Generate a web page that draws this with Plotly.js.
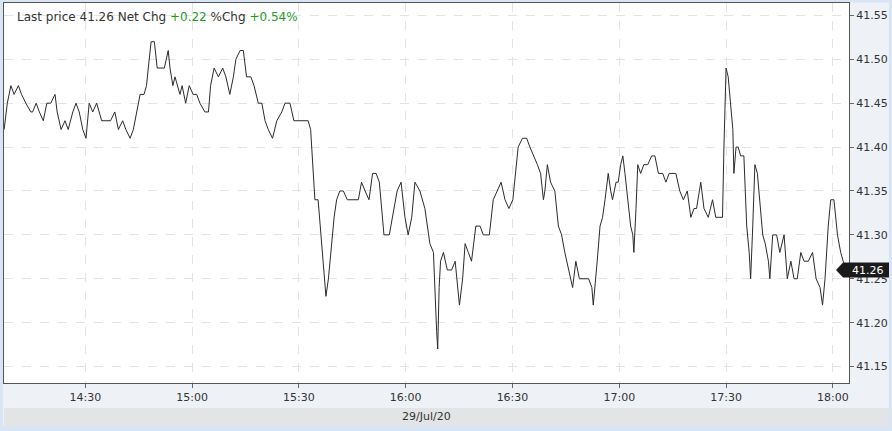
<!DOCTYPE html>
<html>
<head>
<meta charset="utf-8">
<script src="https://cdn.plot.ly/plotly-3.0.1.min.js"></script>
<style>html,body{margin:0;padding:0;background:#d7e5f5;}#chart{width:892px;height:431px;}</style>
</head>
<body>
<div id="chart"></div>
<script>
const tradeDate = "2020-07-29";
const dateLabel = "29/Jul/20";
const times = [
"14:07:12","14:08:06","14:09:06","14:10:00","14:11:12","14:12:06","14:13:18","14:14:42","14:15:12","14:16:12",
"14:17:06","14:18:12","14:19:12","14:20:18","14:21:30","14:22:06","14:23:12","14:24:18","14:25:12","14:26:30",
"14:27:24","14:28:18","14:29:18","14:30:12","14:31:06","14:32:06","14:33:12","14:34:36","14:37:06","14:38:18",
"14:39:18","14:40:30","14:41:24","14:42:36","14:43:30","14:44:24","14:45:24","14:46:30","14:47:12","14:47:42",
"14:48:30","14:49:24","14:50:12","14:52:12","14:53:18","14:53:48","14:54:36","14:55:12","14:55:48","14:56:36",
"14:57:12","14:57:42","14:58:12","14:59:12","15:00:18","15:01:18","15:02:12","15:03:36","15:04:36","15:05:12",
"15:06:12","15:07:24","15:08:36","15:09:30","15:10:36","15:11:36","15:12:18","15:13:30","15:14:24","15:15:18",
"15:16:30","15:17:24","15:18:36","15:19:36","15:20:30","15:21:24","15:22:36","15:23:48","15:25:12","15:26:06",
"15:27:30","15:28:36","15:32:36","15:33:18","15:33:54","15:34:30","15:35:24","15:36:24","15:37:06","15:37:36",
"15:38:18","15:39:12","15:39:54","15:40:36","15:41:30","15:42:30","15:43:36","15:46:42","15:47:36","15:48:36",
"15:49:42","15:50:42","15:51:42","15:52:36","15:53:54","15:55:24","15:56:18","15:57:36","15:58:42","15:59:48",
"16:00:42","16:01:42","16:02:36","16:04:00","16:05:24","16:06:48","16:07:48","16:08:12","16:08:42","16:09:00",
"16:09:24","16:09:48","16:10:36","16:11:42","16:12:54","16:13:54","16:14:30","16:15:06","16:16:00","16:16:42",
"16:17:36","16:18:30","16:19:42","16:20:54","16:21:48","16:23:30","16:24:36","16:25:42","16:26:48","16:27:54",
"16:29:00","16:30:06","16:31:00","16:31:36","16:32:48","16:34:00","16:34:54","16:36:00","16:37:00","16:37:54",
"16:38:42","16:39:06","16:39:48","16:40:42","16:41:54","16:42:54","16:43:48","16:44:42","16:45:42","16:46:54",
"16:47:48","16:48:48","16:51:24","16:52:18","16:52:42","16:53:12","16:53:48","16:54:36","16:55:18","16:56:00",
"16:56:54","16:57:36","16:58:06","16:59:06","16:59:42","17:00:24","17:01:00","17:01:36","17:02:30","17:03:12",
"17:03:48","17:04:06","17:04:42","17:05:12","17:06:00","17:06:54","17:08:00","17:09:06","17:10:00","17:11:00",
"17:12:12","17:13:06","17:14:00","17:15:54","17:17:00","17:18:00","17:19:06","17:20:06","17:21:00","17:21:42",
"17:22:54","17:23:48","17:25:00","17:26:12","17:27:06","17:29:00","17:29:24","17:30:00","17:30:36","17:31:18",
"17:31:54","17:32:12","17:32:48","17:33:24","17:34:06","17:35:00","17:35:48","17:36:30","17:36:54","17:37:30",
"17:38:06","17:38:48","17:39:30","17:40:18","17:41:00","17:41:54","17:42:18","17:43:06","17:44:12","17:45:06",
"17:46:18","17:47:12","17:48:12","17:49:06","17:50:00","17:51:00","17:51:54","17:53:06","17:54:18","17:55:18",
"17:56:24","17:57:06","17:57:48","17:58:42","17:59:24","18:00:18","18:01:18","18:02:12","18:02:54","18:03:36"
];
const prices = [
41.42,41.45,41.47,41.46,41.47,41.46,41.45,41.44,41.44,41.45,
41.44,41.43,41.45,41.45,41.46,41.44,41.42,41.43,41.42,41.44,
41.45,41.44,41.42,41.41,41.45,41.44,41.45,41.43,41.43,41.44,
41.42,41.43,41.42,41.41,41.42,41.44,41.46,41.46,41.47,41.49,
41.52,41.52,41.49,41.49,41.51,41.49,41.47,41.48,41.47,41.46,
41.47,41.46,41.45,41.47,41.46,41.46,41.45,41.44,41.44,41.47,
41.49,41.48,41.49,41.48,41.46,41.48,41.50,41.51,41.51,41.48,
41.48,41.47,41.45,41.45,41.43,41.42,41.41,41.43,41.44,41.45,
41.45,41.43,41.43,41.42,41.38,41.34,41.34,41.29,41.26,41.23,
41.25,41.29,41.32,41.34,41.35,41.35,41.34,41.34,41.36,41.35,
41.34,41.37,41.37,41.36,41.30,41.30,41.32,41.35,41.36,41.32,
41.30,41.32,41.36,41.35,41.33,41.29,41.28,41.23,41.19,41.17,
41.24,41.27,41.28,41.26,41.26,41.27,41.24,41.22,41.25,41.29,
41.28,41.27,41.31,41.31,41.30,41.30,41.34,41.35,41.36,41.34,
41.33,41.34,41.38,41.40,41.41,41.41,41.40,41.39,41.38,41.37,
41.34,41.35,41.38,41.36,41.35,41.31,41.30,41.28,41.26,41.24,
41.27,41.25,41.25,41.24,41.22,41.24,41.27,41.31,41.32,41.34,
41.37,41.35,41.34,41.36,41.36,41.38,41.39,41.37,41.34,41.31,
41.30,41.28,41.33,41.38,41.37,41.38,41.38,41.39,41.39,41.37,
41.37,41.36,41.37,41.37,41.35,41.34,41.35,41.32,41.33,41.33,
41.36,41.33,41.32,41.34,41.32,41.32,41.40,41.49,41.48,41.45,
41.42,41.37,41.40,41.40,41.39,41.39,41.31,41.28,41.25,41.31,
41.38,41.37,41.34,41.30,41.29,41.27,41.25,41.30,41.30,41.28,
41.30,41.25,41.27,41.25,41.25,41.28,41.27,41.27,41.28,41.25,
41.24,41.22,41.25,41.31,41.34,41.34,41.30,41.28,41.27,41.26
];
const xTickTimes = ["14:30","15:00","15:30","16:00","16:30","17:00","17:30","18:00"];
const yTickVals = [41.15,41.20,41.25,41.30,41.35,41.40,41.45,41.50,41.55];
const netChg = "+0.22";
const pctChg = "+0.54%";

const lastPrice = prices[prices.length - 1];
const xs = times.map(t => tradeDate + " " + t);
const FONT = "DejaVu Sans, sans-serif";
const GREEN = "#1f9a1f";

const trace = {
  type: "scatter", mode: "lines", x: xs, y: prices,
  line: {color: "#2b2b2b", width: 1}, hoverinfo: "skip"
};

const layout = {
  width: 892, height: 431,
  margin: {l: 4, r: 43, t: 3, b: 48, pad: 0},
  paper_bgcolor: "#eef2f7",
  plot_bgcolor: "#ffffff",
  showlegend: false,
  font: {family: FONT, size: 11, color: "#333"},
  xaxis: {
    type: "date",
    range: [tradeDate + " 14:07:10", tradeDate + " 18:04:32"],
    tickvals: xTickTimes.map(t => tradeDate + " " + t + ":00"),
    ticktext: xTickTimes,
    ticks: "outside", ticklen: 4, tickcolor: "#666",
    showgrid: true, gridcolor: "#e3e3e3", griddash: "dash", gridwidth: 1,
    showline: true, linecolor: "#555", linewidth: 1, mirror: true,
    zeroline: false, fixedrange: true,
    tickfont: {family: FONT, size: 11, color: "#333"}
  },
  yaxis: {
    side: "right",
    range: [41.1313, 41.5641],
    tickvals: yTickVals,
    tickformat: ".2f",
    ticks: "outside", ticklen: 4, tickcolor: "#666",
    showgrid: true, gridcolor: "#e3e3e3", griddash: "dash", gridwidth: 1,
    showline: true, linecolor: "#555", linewidth: 1, mirror: true,
    zeroline: false, fixedrange: true,
    tickfont: {family: FONT, size: 11, color: "#333"}
  },
  shapes: [
    {type: "rect", xref: "paper", yref: "paper", layer: "below",
     x0: 0, x1: 1.0473, y0: -0.0658, y1: -0.1132, fillcolor: "#e3e4e6", line: {width: 0}},
    {type: "rect", xref: "paper", yref: "paper", layer: "below",
     x0: -0.01, x1: 1.06, y0: -0.1132, y1: -0.14, fillcolor: "#d7e5f5", line: {width: 0}},
    {type: "rect", xref: "paper", yref: "paper", layer: "below",
     x0: 1.0473, x1: 1.06, y0: -0.14, y1: 1.02, fillcolor: "#d7e5f5", line: {width: 0}},
    {type: "rect", xref: "paper", yref: "paper", layer: "below",
     x0: -0.01, x1: -0.0012, y0: -0.14, y1: 1.02, fillcolor: "#d7e5f5", line: {width: 0}},
    {type: "rect", xref: "paper", yref: "paper", layer: "below",
     x0: -0.01, x1: 1.06, y0: 1.0015, y1: 1.02, fillcolor: "#d7e5f5", line: {width: 0}},
    {type: "path", xref: "paper", yref: "y", xsizemode: "pixel", ysizemode: "pixel",
     xanchor: 1, yanchor: lastPrice, layer: "above",
     path: "M -13 0 L -6 7.5 L 40 7.5 L 40 -7.5 L -6 -7.5 Z",
     fillcolor: "#1a1a1a", line: {width: 0}}
  ],
  annotations: [
    {xref: "paper", yref: "paper", x: 0, y: 1, xanchor: "left", yanchor: "middle",
     xshift: 11, yshift: -14, showarrow: false,
     font: {family: FONT, size: 12, color: "#333"},
     text: "Last price " + lastPrice.toFixed(2) + " Net Chg <span style='color:" + GREEN + "'>" + netChg +
           "</span> %Chg <span style='color:" + GREEN + "'>" + pctChg + "</span>"},
    {xref: "paper", yref: "paper", x: 0.5, y: 0, xanchor: "center", yanchor: "middle",
     yshift: -33, showarrow: false,
     font: {family: FONT, size: 11, color: "#333"}, text: dateLabel},
    {xref: "paper", yref: "y", x: 1, y: lastPrice, xanchor: "left", yanchor: "middle",
     xshift: 1, showarrow: false,
     font: {family: FONT, size: 11, color: "#ffffff"}, text: lastPrice.toFixed(2)}
  ]
};

Plotly.newPlot("chart", [trace], layout, {displayModeBar: false, staticPlot: true});
</script>
</body>
</html>
